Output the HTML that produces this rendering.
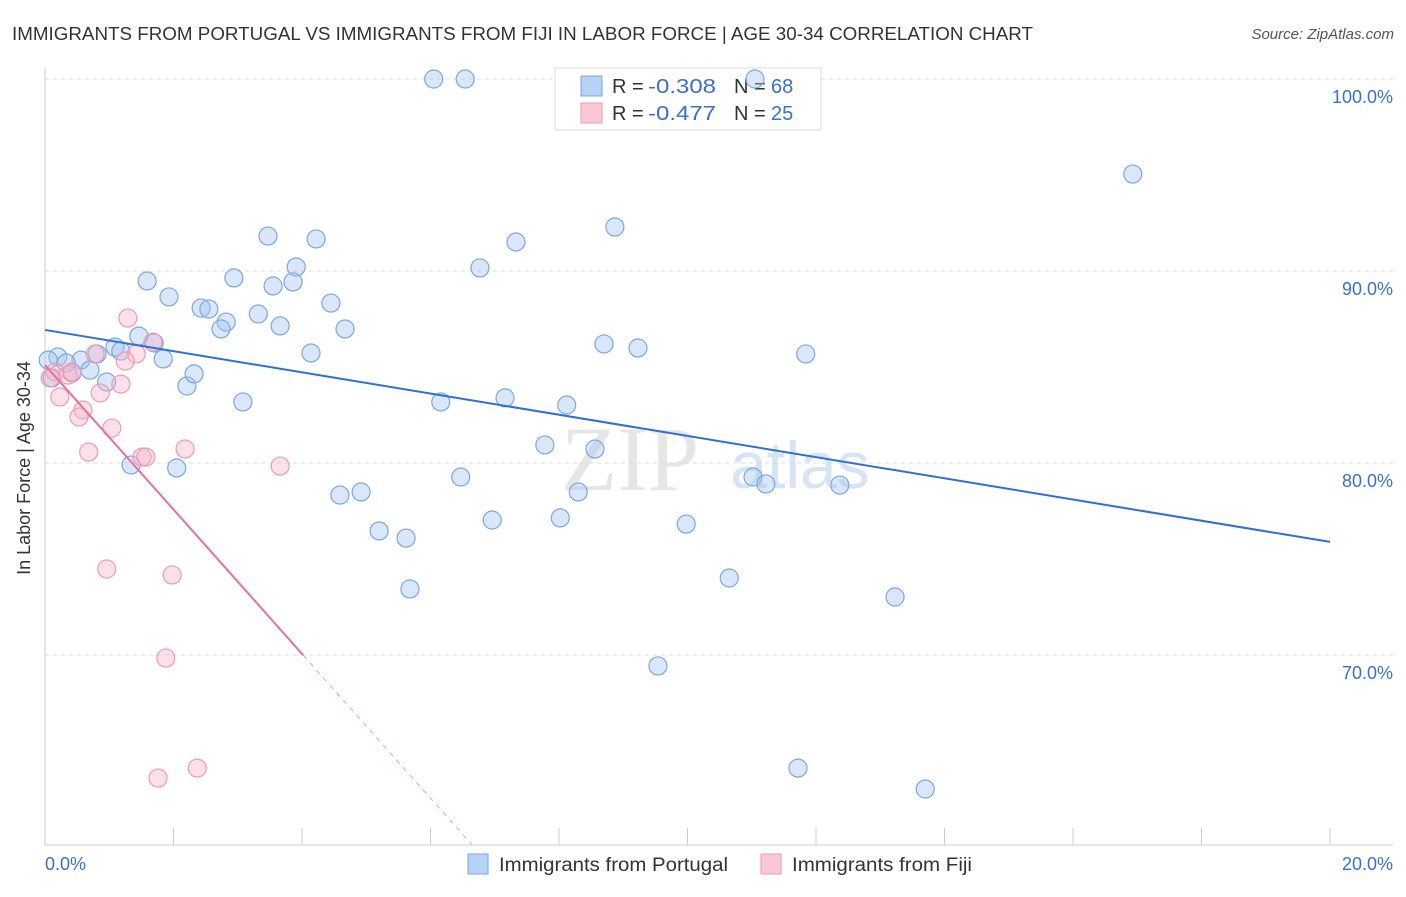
<!DOCTYPE html>
<html><head><meta charset="utf-8"><style>
body{margin:0;background:#fff;font-family:"Liberation Sans",sans-serif}
</style></head><body>
<svg width="1406" height="892" viewBox="0 0 1406 892" xmlns="http://www.w3.org/2000/svg">
<text x="12" y="40" font-size="18" fill="#333" textLength="1021" lengthAdjust="spacingAndGlyphs">IMMIGRANTS FROM PORTUGAL VS IMMIGRANTS FROM FIJI IN LABOR FORCE | AGE 30-34 CORRELATION CHART</text>
<text x="1394" y="39" font-size="15" fill="#555" font-style="italic" text-anchor="end">Source: ZipAtlas.com</text>
<g><text x="630" y="490" font-size="92" fill="#e6e6e6" font-family="Liberation Serif,serif" text-anchor="middle">ZIP</text><text x="800" y="488" font-size="66" fill="#d6e4f5" text-anchor="middle">atlas</text></g>
<g id="grid"></g>
<g id="axes"></g>
<g>
<rect x="555" y="68" width="266" height="62" fill="#fff" stroke="#ddd"/>
<rect x="581" y="76" width="21" height="20" fill="#b7d2f5" stroke="#7aa8e0"/>
<rect x="581" y="103" width="21" height="20" fill="#fcc8d8" stroke="#ef9ab5"/>
<text x="612" y="93" font-size="20" fill="#333">R = <tspan fill="#3a6fd0" x="648" textLength="68" lengthAdjust="spacingAndGlyphs">-0.308</tspan></text>
<text x="734" y="93" font-size="20" fill="#333">N = <tspan fill="#3a6fd0" x="771">68</tspan></text>
<text x="612" y="120" font-size="20" fill="#333">R = <tspan fill="#3a6fd0" x="648" textLength="68" lengthAdjust="spacingAndGlyphs">-0.477</tspan></text>
<text x="734" y="120" font-size="20" fill="#333">N = <tspan fill="#3a6fd0" x="771">25</tspan></text>
</g>
<g id="marks"></g>
<g id="trends"></g>
<text x="20" y="458" font-size="18" fill="#333" transform="rotate(-90 30 458)" text-anchor="middle">In Labor Force | Age 30-34</text>
<g>
<rect x="468" y="854" width="20" height="20" fill="#b7d2f5" stroke="#7aa8e0"/>
<text x="499" y="871" font-size="19" fill="#333" textLength="229" lengthAdjust="spacingAndGlyphs">Immigrants from Portugal</text>
<rect x="761" y="854" width="20" height="20" fill="#fcc8d8" stroke="#ef9ab5"/>
<text x="792" y="871" font-size="19" fill="#333" textLength="180" lengthAdjust="spacingAndGlyphs">Immigrants from Fiji</text>
</g>
</svg>
<script>
const blueX=[6.05,6.54,11.05,16.93,3.47,4.22,8.87,7.33,3.91,6.77,1.59,2.94,3.55,3.86,1.93,2.43,2.55,4.45,2.82,3.32,2.74,3.66,4.67,1.46,1.70,1.09,1.18,8.70,9.23,11.84,4.14,1.84,0.81,0.56,0.20,0.33,0.05,0.70,0.42,0.11,0.96,2.21,2.32,3.08,6.16,7.16,8.12,7.78,8.56,1.34,2.05,6.47,11.02,11.22,12.37,4.59,4.92,8.30,6.96,8.02,9.98,5.20,5.62,10.65,5.68,13.23,9.54,11.72,13.70];
const blueY=[100,100,100,95.05,91.82,91.67,92.29,91.51,90.21,90.16,89.48,89.64,89.22,89.43,88.65,88.07,88.02,88.33,87.34,87.76,86.98,87.14,86.98,86.61,86.25,86.04,85.83,86.20,85.99,85.68,85.73,85.42,85.68,85.36,85.52,85.21,85.36,84.84,84.69,84.43,84.22,84.01,84.64,83.18,83.18,83.39,83.02,80.94,80.73,79.90,79.74,79.27,79.27,78.91,78.85,78.33,78.49,78.49,77.03,77.14,76.82,76.46,76.09,74.01,73.44,73.02,69.43,64.11,63.02];
const pinkX=[1.29,1.68,0.78,1.42,1.25,0.16,0.36,0.42,1.18,0.23,0.86,0.59,0.53,1.04,0.68,1.51,1.57,2.18,3.66,0.96,1.98,1.88,1.76,2.37,0.08];
const pinkY=[87.55,86.30,85.68,85.68,85.31,84.74,84.58,84.74,84.11,83.44,83.65,82.76,82.40,81.82,80.57,80.31,80.31,80.73,79.84,74.48,74.17,69.84,63.59,64.11,84.43];
const yTicks=[100,90,80,70];
const blueTrend=[86.93,75.89];
const pinkTrend=[85.10,-3.76];
const NS="http://www.w3.org/2000/svg";
const sx=v=>45+v*64.25, sy=v=>79+(100-v)*19.2;
function mk(tag,attrs,parent){const e=document.createElementNS(NS,tag);for(const k in attrs)e.setAttribute(k,attrs[k]);parent.appendChild(e);return e;}
const grid=document.getElementById('grid'),axes=document.getElementById('axes'),marks=document.getElementById('marks'),trends=document.getElementById('trends');
yTicks.forEach(t=>{
  const l=mk('line',{x1:45,x2:1393,y1:sy(t),y2:sy(t),stroke:'#ddd','stroke-dasharray':'4,4'},grid);
  
  
  const tx=mk('text',{x:1393,y:sy(t)+24,'font-size':18,fill:'#3a6fd0','text-anchor':'end'},axes);
  tx.textContent=t.toFixed(1)+'%';
  
  
});
mk('line',{x1:45,x2:45,y1:68,y2:845,stroke:'#ccc'},axes);
mk('line',{x1:45,x2:1393,y1:845,y2:845,stroke:'#ccc'},axes);
for(let i=2;i<=20;i+=2){const t=mk('line',{x1:sx(i),x2:sx(i),y1:828,y2:845,stroke:'#ccc'},axes);}
[[0,'start',45,'0.0%'],[20,'end',1393,'20.0%']].forEach(a=>{const t=mk('text',{x:a[2],y:870,'font-size':18,fill:'#3a6fd0','text-anchor':a[1]},axes);t.textContent=a[3];});
blueX.forEach((x,i)=>{const c=mk('circle',{cx:sx(x),cy:sy(blueY[i]),r:9,fill:'rgba(160,195,240,0.4)',stroke:'#7aa8e0','stroke-width':1.2},marks);});
pinkX.forEach((x,i)=>{const c=mk('circle',{cx:sx(x),cy:sy(pinkY[i]),r:9,fill:'rgba(248,180,200,0.4)',stroke:'#ef9ab5','stroke-width':1.2},marks);});
const bl=mk('line',{x1:sx(0),y1:sy(blueTrend[0]),x2:sx(20),y2:sy(blueTrend[1]),stroke:'#2f6fd6','stroke-width':2},trends);


const pf=x=>pinkTrend[0]+pinkTrend[1]*x;
const xs=4.02, xe=(60.1-pinkTrend[0])/pinkTrend[1];
const pl=mk('line',{x1:sx(0),y1:sy(pf(0)),x2:sx(xs),y2:sy(pf(xs)),stroke:'#e8709a','stroke-width':2},trends);


const pd=mk('line',{x1:sx(xs),y1:sy(pf(xs)),x2:sx(xe),y2:sy(pf(xe)),stroke:'#e8a0b8','stroke-width':1,'stroke-dasharray':'5,5'},trends);


</script>
</body></html>
